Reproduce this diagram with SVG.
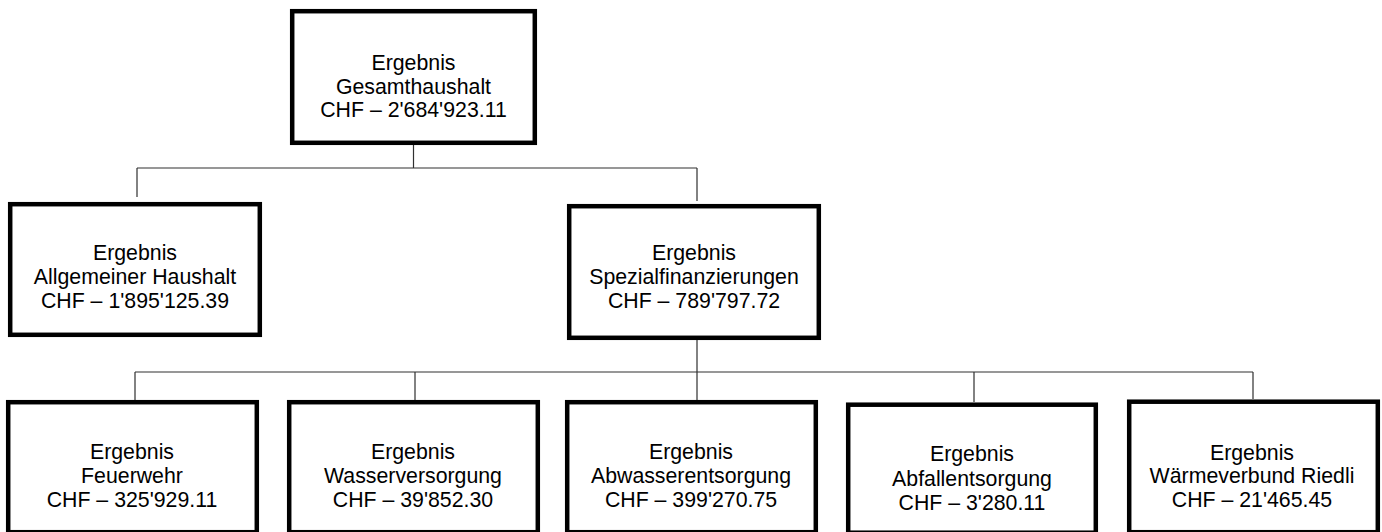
<svg xmlns="http://www.w3.org/2000/svg" width="1382" height="532" viewBox="0 0 1382 532">
<style>
.box{fill:#fff;stroke:#000;stroke-width:4.5}
.t{font-family:"Liberation Sans",Arial,sans-serif;font-size:21.3px;fill:#000;text-anchor:middle}
.c{fill:none;stroke:#303030;stroke-width:1.2}
</style>
<rect width="1382" height="532" fill="#fff"/>
<g id="connectors">
<path class="c" d="M413.5 145V168M137 168H697M137 168V197M697 168V201"/>
<path class="c" d="M697 340V372M135 372H1253M135 372V400M415 372V400M697 372V400M974 372V402M1253 372V399"/>
</g>
<g id="n-gesamt">
<rect class="box" x="292.2" y="11.2" width="242.6" height="131.6"/>
<text class="t" x="413.5" y="70">Ergebnis</text>
<text class="t" x="413.5" y="94">Gesamthaushalt</text>
<text class="t" x="413.5" y="117">CHF – 2'684'923.11</text>
</g>
<g id="n-allgemein">
<rect class="box" x="10.2" y="204.2" width="249.6" height="130.6"/>
<text class="t" x="135" y="260">Ergebnis</text>
<text class="t" x="135" y="284">Allgemeiner Haushalt</text>
<text class="t" x="135" y="308">CHF – 1'895'125.39</text>
</g>
<g id="n-spezial">
<rect class="box" x="569.2" y="206.2" width="249.6" height="131.6"/>
<text class="t" x="694" y="260">Ergebnis</text>
<text class="t" x="694" y="284">Spezialfinanzierungen</text>
<text class="t" x="694" y="308">CHF – 789'797.72</text>
</g>
<g id="n-feuerwehr">
<rect class="box" x="8.2" y="402.2" width="248.6" height="130"/>
<text class="t" x="132" y="459">Ergebnis</text>
<text class="t" x="132" y="483">Feuerwehr</text>
<text class="t" x="132" y="507">CHF – 325'929.11</text>
</g>
<g id="n-wasser">
<rect class="box" x="289.2" y="402.2" width="248.6" height="130"/>
<text class="t" x="413" y="459">Ergebnis</text>
<text class="t" x="413" y="483">Wasserversorgung</text>
<text class="t" x="413" y="507">CHF – 39'852.30</text>
</g>
<g id="n-abwasser">
<rect class="box" x="567.2" y="402.2" width="248.6" height="130"/>
<text class="t" x="691" y="459">Ergebnis</text>
<text class="t" x="691" y="483">Abwasserentsorgung</text>
<text class="t" x="691" y="507">CHF – 399'270.75</text>
</g>
<g id="n-abfall">
<rect class="box" x="848.2" y="404.7" width="247.6" height="128"/>
<text class="t" x="972" y="461">Ergebnis</text>
<text class="t" x="972" y="486">Abfallentsorgung</text>
<text class="t" x="972" y="510">CHF – 3'280.11</text>
</g>
<g id="n-waerme">
<rect class="box" x="1129.2" y="401.7" width="248.6" height="130.5"/>
<text class="t" x="1252" y="460">Ergebnis</text>
<text class="t" x="1252" y="483">Wärmeverbund Riedli</text>
<text class="t" x="1252" y="507">CHF – 21'465.45</text>
</g>
</svg>
